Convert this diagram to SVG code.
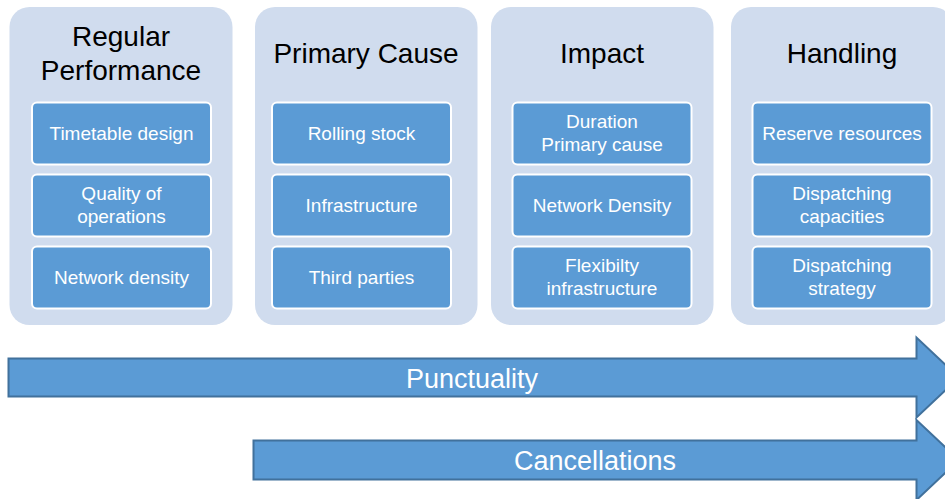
<svg xmlns="http://www.w3.org/2000/svg" width="945" height="499" viewBox="0 0 945 499">
<style>
.panel{fill:#d0dcee;}
.box{fill:#5b9bd5;stroke:#ffffff;stroke-width:2;}
.title{font-family:"Liberation Sans",Arial,sans-serif;font-size:28px;fill:#000;text-anchor:middle;}
.lbl{font-family:"Liberation Sans",Arial,sans-serif;font-size:19px;fill:#fff;text-anchor:middle;}
.arrow{fill:#5b9bd5;stroke:#41719c;stroke-width:2;}
.alabel{font-family:"Liberation Sans",Arial,sans-serif;font-size:27px;fill:#fff;text-anchor:middle;}
</style>
<rect width="945" height="499" fill="#ffffff"/>

<g id="col-regular">
<rect class="panel" x="9.5" y="7" width="223" height="318" rx="20"/>
<text class="title" x="121" y="46">Regular</text>
<text class="title" x="121" y="80">Performance</text>
<g id="n-timetable"><rect class="box" x="32" y="102.5" width="179" height="62" rx="5"/><text class="lbl" x="121.5" y="140">Timetable design</text></g>
<g id="n-quality"><rect class="box" x="32" y="174.5" width="179" height="62" rx="5"/><text class="lbl" x="121.5" y="200">Quality of</text><text class="lbl" x="121.5" y="223">operations</text></g>
<g id="n-netdensity"><rect class="box" x="32" y="246.5" width="179" height="62" rx="5"/><text class="lbl" x="121.5" y="284">Network density</text></g>
</g>

<g id="col-primary">
<rect class="panel" x="255" y="7" width="222.5" height="318" rx="20"/>
<text class="title" x="366" y="63">Primary Cause</text>
<g id="n-rolling"><rect class="box" x="272" y="102.5" width="179" height="62" rx="5"/><text class="lbl" x="361.5" y="140">Rolling stock</text></g>
<g id="n-infra"><rect class="box" x="272" y="174.5" width="179" height="62" rx="5"/><text class="lbl" x="361.5" y="212">Infrastructure</text></g>
<g id="n-third"><rect class="box" x="272" y="246.5" width="179" height="62" rx="5"/><text class="lbl" x="361.5" y="284">Third parties</text></g>
</g>

<g id="col-impact">
<rect class="panel" x="491" y="7" width="222.5" height="318" rx="20"/>
<text class="title" x="602" y="63">Impact</text>
<g id="n-duration"><rect class="box" x="512.5" y="102.5" width="179" height="62" rx="5"/><text class="lbl" x="602" y="128">Duration</text><text class="lbl" x="602" y="151">Primary cause</text></g>
<g id="n-netDensity"><rect class="box" x="512.5" y="174.5" width="179" height="62" rx="5"/><text class="lbl" x="602" y="212">Network Density</text></g>
<g id="n-flex"><rect class="box" x="512.5" y="246.5" width="179" height="62" rx="5"/><text class="lbl" x="602" y="272">Flexibilty</text><text class="lbl" x="602" y="295">infrastructure</text></g>
</g>

<g id="col-handling">
<rect class="panel" x="731" y="7" width="222" height="318" rx="20"/>
<text class="title" x="842" y="63">Handling</text>
<g id="n-reserve"><rect class="box" x="752.5" y="102.5" width="179" height="62" rx="5"/><text class="lbl" x="842" y="140">Reserve resources</text></g>
<g id="n-dispcap"><rect class="box" x="752.5" y="174.5" width="179" height="62" rx="5"/><text class="lbl" x="842" y="200">Dispatching</text><text class="lbl" x="842" y="223">capacities</text></g>
<g id="n-dispstrat"><rect class="box" x="752.5" y="246.5" width="179" height="62" rx="5"/><text class="lbl" x="842" y="272">Dispatching</text><text class="lbl" x="842" y="295">strategy</text></g>
</g>

<g id="connectors">
<g id="arrow-punctuality">
<path class="arrow" d="M8.5,358.5 L916.5,358.5 L916.5,337.5 L959,377.5 L916.5,417.5 L916.5,396.5 L8.5,396.5 Z"/>
<text class="alabel" x="472" y="388">Punctuality</text>
</g>
<g id="arrow-cancellations">
<path class="arrow" d="M253.5,440.5 L916.5,440.5 L916.5,420 L959,460 L916.5,500 L916.5,479.5 L253.5,479.5 Z"/>
<text class="alabel" x="595" y="470">Cancellations</text>
</g>
</g>
</svg>
